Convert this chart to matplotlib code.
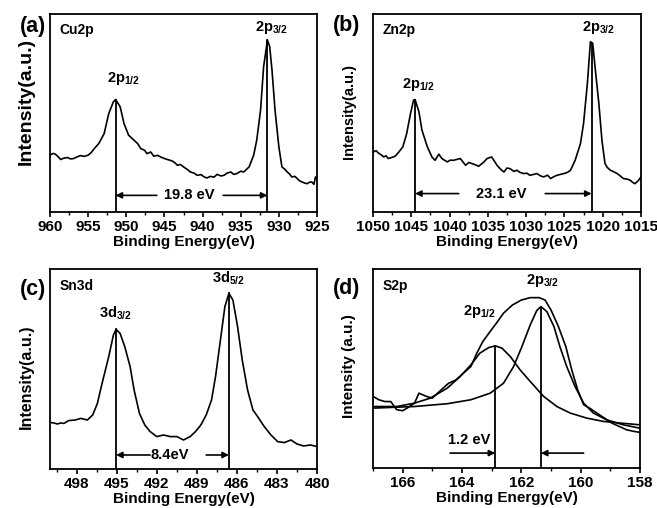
import numpy as np
import matplotlib
matplotlib.use("Agg")
import matplotlib.pyplot as plt

plt.rcParams['font.family'] = ['Liberation Sans', 'DejaVu Sans']
plt.rcParams['font.weight'] = 'bold'
plt.rcParams['mathtext.fontset'] = 'custom'
plt.rcParams['mathtext.rm'] = 'Liberation Sans:bold'
plt.rcParams['mathtext.it'] = 'Liberation Sans:bold'
plt.rcParams['mathtext.bf'] = 'Liberation Sans:bold'

# ---------------- data ----------------
cu_x = [960.0, 959.6, 959.3, 958.9, 958.6, 958.2, 957.7, 957.3, 956.9, 956.4, 956.0, 955.5, 955.0,
        954.6, 954.2, 953.6, 952.9, 952.3, 951.7, 951.4, 950.8, 950.3, 949.7, 949.0, 948.5, 948.1,
        947.6, 947.3, 946.8, 946.4, 945.9, 945.5, 945.0, 944.6, 944.0, 943.6, 943.3, 942.9, 942.5,
        942.0, 941.6, 941.1, 940.7, 940.2, 939.8, 939.4, 939.0, 938.5, 938.1, 937.6, 937.2, 936.8,
        936.3, 935.9, 935.5, 935.0, 934.6, 933.9, 933.3, 932.9, 932.4, 932.0, 931.5, 931.2, 930.9,
        930.5, 930.0, 929.6, 929.2, 928.9, 928.6, 928.3, 927.9, 927.6, 927.3, 927.0, 926.6, 926.3,
        926.0, 925.7, 925.4, 925.2, 925.0]
cu_y = [0.287, 0.296, 0.292, 0.278, 0.265, 0.272, 0.275, 0.268, 0.27, 0.279, 0.285, 0.281, 0.287,
        0.300, 0.320, 0.346, 0.396, 0.497, 0.556, 0.568, 0.531, 0.447, 0.388, 0.363, 0.345, 0.320,
        0.312, 0.295, 0.303, 0.282, 0.286, 0.278, 0.270, 0.265, 0.258, 0.248, 0.236, 0.240, 0.228,
        0.215, 0.202, 0.196, 0.185, 0.189, 0.177, 0.172, 0.180, 0.176, 0.190, 0.182, 0.185, 0.196,
        0.202, 0.190, 0.194, 0.206, 0.202, 0.228, 0.287, 0.363, 0.514, 0.733, 0.868, 0.835, 0.717,
        0.514, 0.329, 0.228, 0.215, 0.202, 0.192, 0.177, 0.180, 0.169, 0.158, 0.152, 0.146, 0.143,
        0.150, 0.152, 0.140, 0.177, 0.169]

zn_x = [1049.9, 1049.6, 1049.3, 1048.9, 1048.6, 1048.3, 1048.0, 1047.5, 1047.1, 1046.6, 1046.1,
        1045.6, 1045.1, 1044.7, 1044.5, 1044.0, 1043.6, 1042.9, 1042.3, 1041.9, 1041.4, 1041.0,
        1040.3, 1039.9, 1039.5, 1039.0, 1038.6, 1037.9, 1037.5, 1037.1, 1036.6, 1036.2, 1035.5,
        1035.1, 1034.5, 1033.8, 1033.3, 1032.9, 1032.5, 1032.1, 1031.6, 1031.2, 1030.8, 1030.3,
        1029.9, 1029.5, 1029.0, 1028.6, 1028.1, 1027.7, 1027.2, 1026.8, 1026.4, 1026.0, 1025.5,
        1025.1, 1024.6, 1024.2, 1023.6, 1022.9, 1022.5, 1022.0, 1021.6, 1021.3, 1021.0, 1020.5,
        1020.1, 1019.7, 1019.4, 1019.0, 1018.6, 1018.1, 1017.7, 1017.3, 1016.8, 1016.4, 1016.1,
        1015.8, 1015.4, 1015.0]
zn_y = [0.304, 0.310, 0.298, 0.288, 0.278, 0.284, 0.270, 0.276, 0.282, 0.304, 0.329, 0.396, 0.497,
        0.565, 0.568, 0.506, 0.413, 0.329, 0.278, 0.261, 0.292, 0.270, 0.253, 0.262, 0.261, 0.266,
        0.270, 0.236, 0.250, 0.245, 0.238, 0.231, 0.253, 0.270, 0.278, 0.236, 0.215, 0.202, 0.222,
        0.219, 0.205, 0.211, 0.200, 0.194, 0.196, 0.185, 0.190, 0.194, 0.182, 0.177, 0.186, 0.169,
        0.178, 0.185, 0.190, 0.194, 0.200, 0.211, 0.261, 0.346, 0.447, 0.649, 0.860, 0.852, 0.733,
        0.548, 0.363, 0.245, 0.225, 0.211, 0.204, 0.194, 0.182, 0.169, 0.166, 0.160, 0.150, 0.143,
        0.156, 0.177]

sn_x = [499.95, 499.7, 499.45, 499.2, 498.95, 498.6, 498.1, 497.7, 497.2, 496.8, 496.45, 496.1,
        495.6, 495.25, 495.05, 494.75, 494.4, 494.0, 493.7, 493.3, 492.9, 492.5, 492.0, 491.5, 491.0,
        490.5, 490.0, 489.5, 489.1, 488.7, 488.3, 487.9, 487.6, 487.2, 486.9, 486.6, 486.3, 485.95,
        485.6, 485.2, 484.8, 484.45, 483.95, 483.45, 482.95, 482.45, 481.95, 481.5, 481.0, 480.5,
        480.0]
sn_y = [0.232, 0.230, 0.225, 0.230, 0.228, 0.242, 0.245, 0.253, 0.245, 0.270, 0.328, 0.428, 0.562,
        0.670, 0.698, 0.678, 0.612, 0.512, 0.395, 0.278, 0.220, 0.187, 0.162, 0.170, 0.162, 0.162,
        0.145, 0.162, 0.187, 0.220, 0.270, 0.345, 0.462, 0.662, 0.812, 0.878, 0.845, 0.712, 0.545,
        0.395, 0.295, 0.262, 0.212, 0.170, 0.137, 0.132, 0.145, 0.125, 0.115, 0.120, 0.112]

s_x = [167.0, 166.8, 166.6, 166.4, 166.3, 166.2, 166.0, 165.85, 165.6, 165.45, 165.2, 165.0, 164.7,
       164.45, 164.2, 163.95, 163.7, 163.5, 163.3, 163.05, 162.8, 162.6, 162.3, 162.0, 161.7, 161.4,
       161.2, 161.0, 160.75, 160.5, 160.3, 160.1, 159.9, 159.7, 159.45, 159.2, 158.95, 158.7, 158.45,
       158.2, 158.0]
s_y = [0.360, 0.343, 0.334, 0.334, 0.313, 0.293, 0.288, 0.301, 0.326, 0.376, 0.360, 0.351, 0.393,
       0.426, 0.443, 0.477, 0.510, 0.577, 0.635, 0.686, 0.736, 0.778, 0.819, 0.844, 0.856, 0.856,
       0.844, 0.794, 0.711, 0.610, 0.493, 0.393, 0.318, 0.301, 0.276, 0.251, 0.226, 0.209, 0.192,
       0.184, 0.179]

s12_x = [167.0, 166.2, 165.6, 165.07, 164.5, 164.06, 163.7, 163.4, 163.1, 162.88, 162.65, 162.37,
         162.04, 161.7, 161.25, 160.8, 160.35, 159.8, 159.23, 158.67, 158.0]
s12_y = [0.309, 0.309, 0.326, 0.351, 0.401, 0.460, 0.518, 0.577, 0.605, 0.614, 0.602, 0.560, 0.493,
         0.435, 0.360, 0.309, 0.276, 0.251, 0.234, 0.226, 0.217]

s32_x = [167.0, 165.6, 164.5, 163.7, 163.05, 162.6, 162.26, 161.98, 161.7, 161.48, 161.34, 161.14,
         160.9, 160.7, 160.47, 160.19, 159.9, 159.57, 159.12, 158.56, 158.0]
s32_y = [0.301, 0.309, 0.323, 0.343, 0.376, 0.426, 0.510, 0.610, 0.719, 0.791, 0.811, 0.786, 0.711,
         0.610, 0.510, 0.410, 0.326, 0.276, 0.242, 0.217, 0.200]

cu_peaks = [951.4, 931.5]
zn_peaks = [1044.5, 1021.45]
sn_peaks = [495.05, 486.6]
s_peaks = [162.88, 161.34]

cu_ticks = [960, 955, 950, 945, 940, 935, 930, 925]
zn_ticks = [1050, 1045, 1040, 1035, 1030, 1025, 1020, 1015]
sn_ticks = [498, 495, 492, 489, 486, 483, 480]
s_ticks = [166, 164, 162, 160, 158]

# ---------------- figure ----------------
fig = plt.figure(figsize=(6.57, 5.08), dpi=100)
lw = 1.2
tickfs = 11
labfs = 11
AP = dict(arrowstyle='-|>', color='black', lw=1.2, mutation_scale=9, shrinkA=0, shrinkB=0)


def setup(ax, xlim, ticks, minor_step, ylabel, yfs, ypos):
    ax.set_ylim(0, 1)
    ax.set_xticks(ticks)
    ax.set_xticks(np.arange(min(ticks), max(xlim) + 1e-6, minor_step), minor=True)
    ax.set_xlim(*xlim)
    ax.set_yticks([])
    ax.tick_params(axis='x', which='major', direction='out', length=3.5, width=1.2,
                   labelsize=tickfs, pad=2)
    ax.tick_params(axis='x', which='minor', direction='out', length=2.5, width=1.0)
    for lab in ax.get_xticklabels():
        lab.set_fontweight('bold')
    for s in ax.spines.values():
        s.set_linewidth(1.3)
    ax.set_xlabel('Binding Energy(eV)', fontsize=labfs, fontweight='bold', labelpad=1)
    ax.set_ylabel(ylabel, fontsize=yfs, fontweight='bold')
    ax.yaxis.label.set_va('center')
    ax.yaxis.set_label_coords(-0.09, ypos)


def arrows(ax, x1, x2, ya, text, tx, l_end, r_end, fs=10.5):
    ax.annotate('', xy=(x1, ya), xytext=(l_end, ya), arrowprops=AP)
    ax.annotate('', xy=(x2, ya), xytext=(r_end, ya), arrowprops=AP)
    ax.text(tx, ya, text, ha='center', va='center', fontsize=fs, fontweight='bold')


def vlines(ax, peaks, xs, ys):
    order = np.argsort(xs)
    xa = np.array(xs)[order]
    ya = np.array(ys)[order]
    for p in peaks:
        top = np.interp(p, xa, ya)
        ax.plot([p, p], [0, top], color='black', lw=1.3)


# (a) Cu2p
axa = fig.add_axes([0.0761, 0.5827, 0.4064, 0.3897])
axa.plot(cu_x, cu_y, color='black', lw=lw)
vlines(axa, cu_peaks, cu_x, cu_y)
setup(axa, (960, 925), cu_ticks, 2.5, 'Intensity(a.u.)', 14, 0.56)
arrows(axa, cu_peaks[0], cu_peaks[1], 0.084, '19.8 eV', 941.7, 946.0, 937.3)
axa.text(950.3, 0.63, r'2p$_{1/2}$', ha='center', va='bottom', fontsize=10.5)
axa.text(931.0, 0.89, r'2p$_{3/2}$', ha='center', va='bottom', fontsize=10.5)
axa.text(0.035, 0.92, 'Cu2p', transform=axa.transAxes, ha='left', va='center', fontsize=10)
fig.text(0.03, 0.947, '(a)', fontsize=15.5, fontweight='bold', ha='left', va='center')

# (b) Zn2p
axb = fig.add_axes([0.5677, 0.5827, 0.4079, 0.3897])
axb.plot(zn_x, zn_y, color='black', lw=lw)
vlines(axb, zn_peaks, zn_x, zn_y)
setup(axb, (1050, 1015), zn_ticks, 2.5, 'Intensity(a.u.)', 10.5, 0.51)
arrows(axb, zn_peaks[0], zn_peaks[1], 0.093, '23.1 eV', 1033.2, 1038.8, 1027.5)
axb.text(1044.0, 0.60, r'2p$_{1/2}$', ha='center', va='bottom', fontsize=10.5)
axb.text(1020.6, 0.89, r'2p$_{3/2}$', ha='center', va='bottom', fontsize=10.5)
axb.text(0.035, 0.92, 'Zn2p', transform=axb.transAxes, ha='left', va='center', fontsize=10)
fig.text(0.507, 0.949, '(b)', fontsize=15.5, fontweight='bold', ha='left', va='center')

# (c) Sn3d
axc = fig.add_axes([0.0761, 0.0768, 0.4064, 0.3937])
axc.plot(sn_x, sn_y, color='black', lw=lw)
vlines(axc, sn_peaks, sn_x, sn_y)
setup(axc, (500, 480), sn_ticks, 1.5, 'Intensity(a.u.)', 11.5, 0.46)
arrows(axc, sn_peaks[0], sn_peaks[1], 0.07, '8.4eV', 491.0, 492.5, 488.3)
axc.text(495.1, 0.735, r'3d$_{3/2}$', ha='center', va='bottom', fontsize=10.5)
axc.text(486.6, 0.91, r'3d$_{5/2}$', ha='center', va='bottom', fontsize=10.5)
axc.text(0.035, 0.915, 'Sn3d', transform=axc.transAxes, ha='left', va='center', fontsize=10)
fig.text(0.03, 0.431, '(c)', fontsize=15.5, fontweight='bold', ha='left', va='center')

# (d) S2p
axd = fig.add_axes([0.5677, 0.0787, 0.4064, 0.3918])
axd.plot(s_x, s_y, color='black', lw=lw)
axd.plot(s12_x, s12_y, color='black', lw=lw)
axd.plot(s32_x, s32_y, color='black', lw=lw)
axd.plot([s_peaks[0], s_peaks[0]], [0, np.interp(s_peaks[0], s12_x[::-1], s12_y[::-1])], color='black', lw=1.3)
axd.plot([s_peaks[1], s_peaks[1]], [0, np.interp(s_peaks[1], s32_x[::-1], s32_y[::-1])], color='black', lw=1.3)
setup(axd, (167, 158), s_ticks, 1, 'Intensity (a.u.)', 11, 0.51)
axd.annotate('', xy=(s_peaks[0], 0.075), xytext=(164.4, 0.075), arrowprops=AP)
axd.annotate('', xy=(s_peaks[1], 0.075), xytext=(159.9, 0.075), arrowprops=AP)
axd.text(163.75, 0.14, '1.2 eV', ha='center', va='center', fontsize=10.5, fontweight='bold')
axd.text(163.4, 0.745, r'2p$_{1/2}$', ha='center', va='bottom', fontsize=10.5)
axd.text(161.3, 0.9, r'2p$_{3/2}$', ha='center', va='bottom', fontsize=10.5)
axd.text(0.035, 0.915, 'S2p', transform=axd.transAxes, ha='left', va='center', fontsize=10)
fig.text(0.507, 0.433, '(d)', fontsize=15.5, fontweight='bold', ha='left', va='center')

fig.savefig('out.png', dpi=100)
